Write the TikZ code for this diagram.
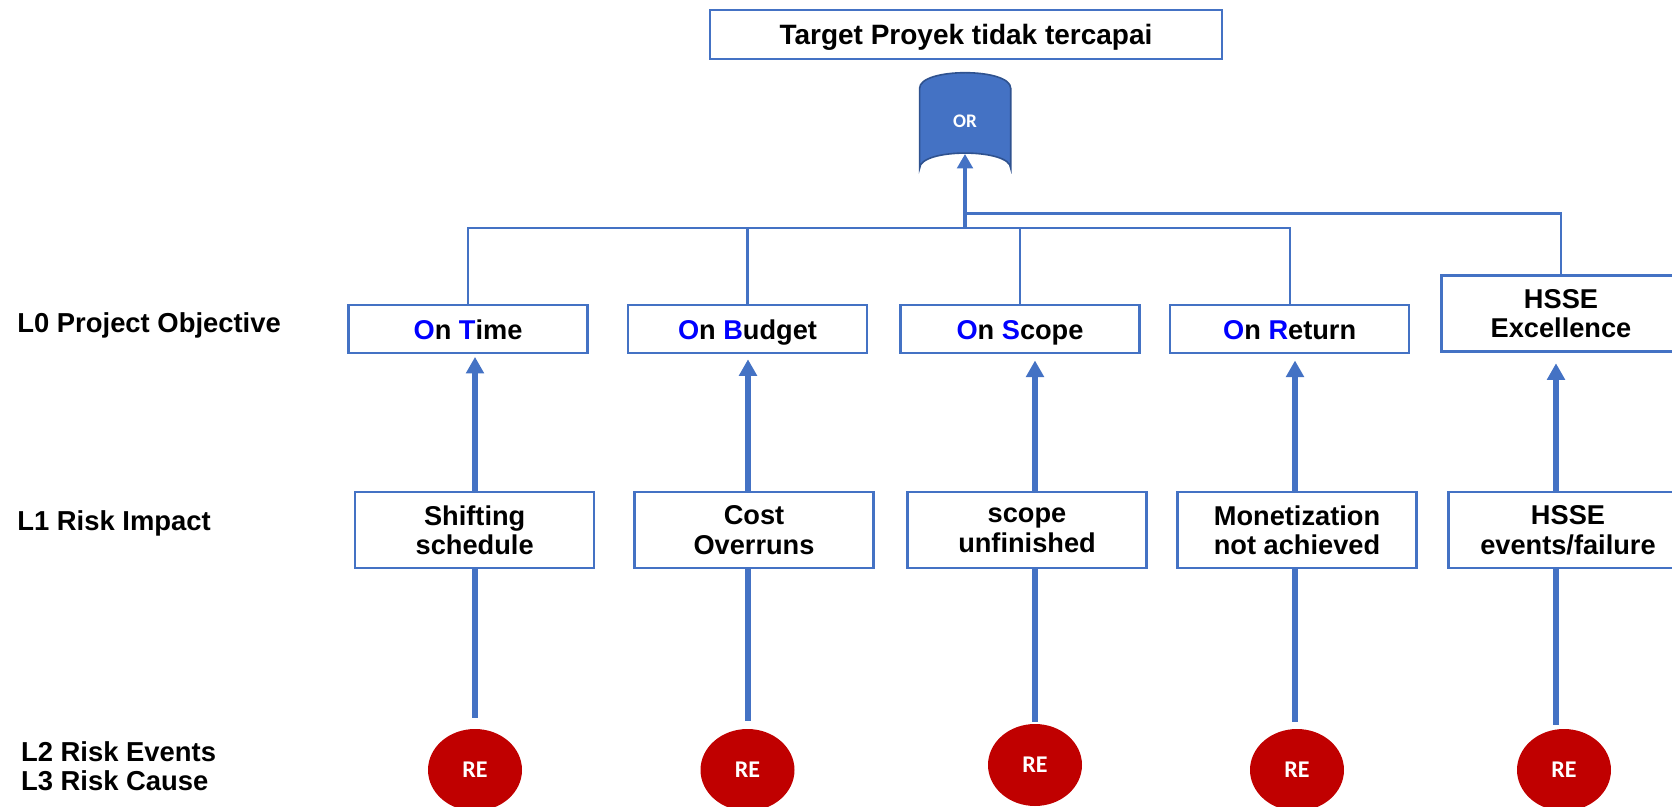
\documentclass[tikz,border=0pt]{standalone}
\usepackage{fontspec}
\setmainfont{Liberation Sans}
\newfontfamily\calfont{Carlito}
\usepackage{xcolor}
\usepackage{tikz}
\usetikzlibrary{positioning,arrows.meta,shapes.geometric}
\definecolor{ofblue}{HTML}{4472C4}
\definecolor{gatedark}{HTML}{2F528F}
\definecolor{rered}{HTML}{C00000}
\newcommand{\hl}[1]{\textcolor{blue}{#1}}

\begin{document}
\begin{tikzpicture}[x=0.5pt, y=-0.5pt,
  box/.style={draw=ofblue, line width=1.2pt, align=center, inner sep=0pt, fill=white, font=\bfseries\fontsize{13.6}{14.8}\selectfont},
  objbox/.style={box, minimum width=119.5pt, minimum height=24pt, text height=10pt, text depth=0pt},
  impbox/.style={box, minimum width=119.5pt, minimum height=38pt},
  lvl/.style={anchor=base west, inner sep=0pt, font=\bfseries\fontsize{13.7}{15}\selectfont},
  re/.style={ellipse, fill=rered, inner sep=0pt, minimum width=47pt, minimum height=41pt, text=white, font=\calfont\bfseries\fontsize{12}{12}\selectfont},
  link/.style={draw=ofblue, line width=1.2pt},
  orarr/.style={-{Triangle[width=7.8pt,length=7.2pt]}, draw=ofblue, line width=1.6pt},
  uparr/.style={-{Triangle[width=8.7pt,length=8.3pt]}, draw=ofblue, line width=2.7pt},
  riser/.style={draw=ofblue, line width=2.7pt}]
\useasboundingbox (0,0) rectangle (1672,807);

% top event and OR gate
\node[objbox, minimum width=256pt, minimum height=24.3pt, font=\bfseries\fontsize{14}{15}\selectfont] (goal) at (966,34.5) {Target Proyek tidak tercapai};
\filldraw[fill=ofblue, draw=gatedark, line width=0.8pt] (919.6,168.3) -- (919.6,88.3)
  .. controls (919.6,67.5) and (1010.7,67.5) .. (1010.7,88.3) -- (1010.7,168.3)
  .. controls (1010.7,148) and (919.6,148) .. (919.6,168.3) -- cycle;
\node[text=white, font=\calfont\bfseries\fontsize{9.6}{10}\selectfont] (gate) at (965,121.7) {OR};
\coordinate (gatebase) at (965,154);
\coordinate (bus) at (965,228.3);
\coordinate (bus2) at (965,213.7);

% L0 objectives
\node[objbox] (obj1) at (468,329.3) {\hl{O}n \hl{T}ime};
\node[objbox] (obj2) at (747.5,329.3) {\hl{O}n \hl{B}udget};
\node[objbox] (obj3) at (1020,329.3) {\hl{O}n \hl{S}cope};
\node[objbox] (obj4) at (1289.7,329.3) {\hl{O}n \hl{R}eturn};
\node[impbox] (obj5) at (1561,313.7) {HSSE\\Excellence};

% L1 impacts
\node[impbox] (imp1) at (474.7,530.3) {Shifting\\schedule};
\node[impbox] (imp2) at (754,530.3) {Cost\\Overruns};
\node[impbox] (imp3) at (1027,530.3) {scope\\unfinished};
\node[impbox] (imp4) at (1297,530.3) {Monetization\\not achieved};
\node[impbox] (imp5) at (1568,530.3) {HSSE\\events/failure};

% L2/L3 risk events
\node[re] (re1) at (475,770) {RE};
\node[re] (re2) at (747.5,770) {RE};
\node[re] (re3) at (1035,765) {RE};
\node[re] (re4) at (1297,770) {RE};
\node[re] (re5) at (1564,770) {RE};

% level labels
\node[lvl] (lv0) at (17,332.7) {L0 Project Objective};
\node[lvl] (lv1) at (17,530.7) {L1 Risk Impact};
\node[lvl] (lv2) at (20.7,761) {L2 Risk Events};
\node[lvl] (lv3) at (20.7,790) {L3 Risk Cause};

% connectors
\foreach \i in {1,...,4} \draw[link] (obj\i.north) |- (bus);
\draw[link] (obj5.north) |- (bus2);
\draw[orarr] (bus) -- (gatebase);
\coordinate (c1) at (475,0);
\coordinate (c2) at (748,0);
\coordinate (c3) at (1035,0);
\coordinate (c4) at (1295,0);
\coordinate (c5) at (1556,0);
\foreach \i/\ga/\gb in {1/1.2/5.5, 2/2.4/4, 3/3/1, 4/3/3.5, 5/5.2/2} {
  \draw[uparr, shorten >=\ga pt] (c\i |- imp\i.north) -- (c\i |- obj\i.south);
  \draw[riser, shorten <=\gb pt] (c\i |- re\i.north) -- (c\i |- imp\i.south);
}
\end{tikzpicture}
\end{document}
